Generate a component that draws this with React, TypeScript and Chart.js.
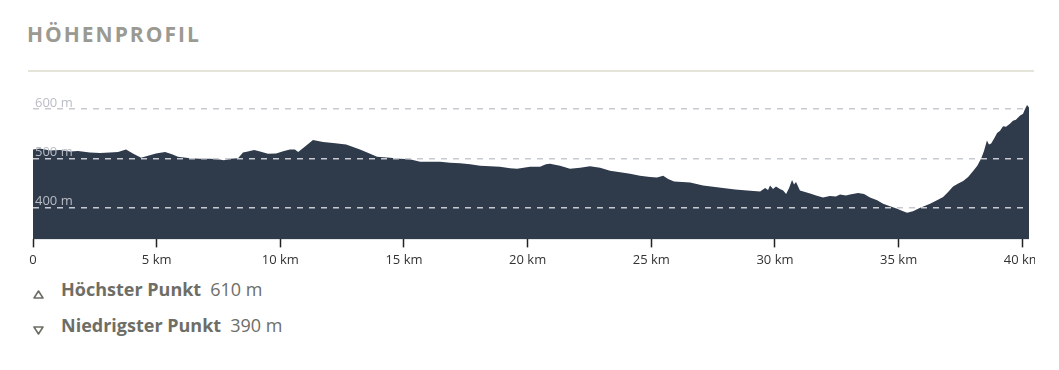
import React, { useEffect, useRef } from "react";
import { Chart, registerables } from "chart.js";

Chart.register(...registerables);

const DISTANCE_KM = [
  0.0, 0.28, 0.69, 1.09, 1.5, 1.82, 2.3, 2.71, 3.11, 3.44, 3.76, 4.04, 4.37, 4.65, 4.97,
  5.34, 5.62, 5.86, 6.35, 6.75, 7.16, 7.48, 7.72, 7.97, 8.29, 8.49, 8.69, 8.94, 9.18, 9.5,
  9.83, 10.15, 10.39, 10.59, 10.72, 11.0, 11.32, 11.52, 11.73, 12.13, 12.66, 13.22, 13.63,
  13.91, 14.44, 14.84, 15.24, 15.65, 16.05, 16.46, 16.86, 17.27, 17.67, 18.08, 18.48, 18.88,
  19.29, 19.57, 20.1, 20.5, 20.74, 20.9, 21.31, 21.71, 22.12, 22.52, 22.93, 23.33, 23.74,
  24.14, 24.54, 24.95, 25.23, 25.48, 25.68, 25.92, 26.57, 27.09, 27.58, 27.9, 28.39, 28.87,
  29.4, 29.6, 29.72, 29.8, 29.92, 30.04, 30.2, 30.33, 30.45, 30.57, 30.69, 30.77, 30.85,
  31.01, 31.42, 31.66, 31.94, 32.22, 32.46, 32.63, 32.87, 33.03, 33.36, 33.6, 33.84, 34.13,
  34.37, 34.65, 34.94, 35.18, 35.34, 35.58, 35.87, 36.27, 36.55, 36.8, 37.0, 37.2, 37.41,
  37.61, 37.81, 38.02, 38.18, 38.34, 38.45, 38.57, 38.65, 38.74, 38.86, 38.98, 39.1, 39.22,
  39.34, 39.5, 39.62, 39.74, 39.9, 40.03, 40.11, 40.19, 40.27,
];

const ELEVATION_M = [
  518, 520, 516, 517, 514, 515, 512, 511, 512, 513, 518, 510, 501, 505, 510,
  513, 508, 503, 500, 499, 499, 498, 496, 499, 500, 512, 514, 517, 514, 509,
  510, 515, 518, 518, 513, 524, 537, 535, 533, 531, 528, 518, 509,
  503, 501, 499, 498, 493, 493, 493, 491, 490, 488, 485, 484, 483,
  480, 479, 483, 483, 488, 489, 485, 479, 481, 484, 481, 475, 472,
  469, 465, 462, 461, 465, 458, 453, 451, 445, 442, 440, 437, 435,
  433, 440, 436, 445, 438, 443, 438, 435, 428, 440, 456, 447, 452,
  435, 429, 425, 421, 424, 423, 427, 425, 427, 430, 428, 421, 415,
  408, 403, 398, 393, 390, 393, 400, 408, 415, 422, 432, 443, 449,
  454, 462, 475, 485, 500, 515, 536, 528, 530, 540, 551, 556, 565,
  564, 570, 576, 578, 586, 590, 600, 608, 603,
];

const X_TICKS = [0, 5, 10, 15, 20, 25, 30, 35, 40];
const Y_TICKS = [400, 500, 600];
const X_MAX = 40.27;
const Y_MIN = 336;
const Y_MAX = 620;

const TITLE = "HÖHENPROFIL";
const HIGHEST_LABEL = "Höchster Punkt";
const HIGHEST_VALUE = "610 m";
const LOWEST_LABEL = "Niedrigster Punkt";
const LOWEST_VALUE = "390 m";

const FONT = '"Open Sans", "DejaVu Sans", sans-serif';

function ProfileChart() {
  const ref = useRef<HTMLCanvasElement | null>(null);
  useEffect(() => {
    if (!ref.current) return;
    const points = DISTANCE_KM.map((x, i) => ({ x, y: ELEVATION_M[i] }));
    const chart = new Chart(ref.current, {
      type: "line",
      data: {
        datasets: [
          {
            data: points,
            fill: "start",
            backgroundColor: "#2f3a4b",
            borderColor: "rgba(0,0,0,0)",
            borderWidth: 0,
            pointRadius: 0,
            tension: 0,
          },
        ],
      },
      options: {
        animation: false,
        responsive: false,
        devicePixelRatio: 1,
        layout: { padding: { left: 5, right: 18, top: 14, bottom: 0 } },
        plugins: { legend: { display: false }, tooltip: { enabled: false } },
        scales: {
          x: {
            type: "linear",
            min: 0,
            max: X_MAX,
            afterBuildTicks: (scale: any) => {
              scale.ticks = X_TICKS.map((v) => ({ value: v }));
            },
            afterFit: (scale: any) => {
              scale.paddingLeft = 0;
              scale.paddingRight = 0;
            },
            grid: {
              display: true,
              drawOnChartArea: false,
              drawTicks: true,
              tickLength: 8,
              tickColor: "#222",
              tickWidth: 1.5,
            },
            border: { display: false },
            ticks: {
              padding: 5,
              color: "#333",
              font: { family: FONT, size: 13 },
              maxRotation: 0,
              autoSkip: false,
              callback: (v: any) => (Number(v) === 0 ? "0" : `${v} km`),
            },
          },
          y: {
            type: "linear",
            min: Y_MIN,
            max: Y_MAX,
            afterBuildTicks: (scale: any) => {
              scale.ticks = Y_TICKS.map((v) => ({ value: v }));
            },
            afterFit: (scale: any) => {
              scale.width = 0;
            },
            grid: {
              display: true,
              drawTicks: false,
              color: "#c8cad1",
              lineWidth: 1.5,
              z: 1,
            },
            border: { display: false, dash: [6, 6], z: 1 },
            ticks: {
              mirror: true,
              padding: 2,
              labelOffset: -6,
              color: "#b9bcc4",
              font: { family: FONT, size: 13 },
              autoSkip: false,
              z: 1,
              callback: (v: any) => `${v} m`,
            },
          },
        },
      },
    });
    return () => chart.destroy();
  }, []);
  return <canvas ref={ref} width={1019} height={188} style={{ display: "block" }} />;
}

function Triangle({ up }: { up: boolean }) {
  return (
    <svg width={11} height={9} viewBox="0 0 11 9" style={{ position: "absolute", left: 0, top: 10 }}>
      {up ? (
        <polygon points="5.5,1 10,8 1,8" fill="none" stroke="#6e6e66" strokeWidth={1.6} strokeLinejoin="round" />
      ) : (
        <polygon points="1,1 10,1 5.5,8" fill="none" stroke="#6e6e66" strokeWidth={1.6} strokeLinejoin="round" />
      )}
    </svg>
  );
}

function LegendRow({ up, label, value, top }: { up: boolean; label: string; value: string; top: number }) {
  return (
    <div
      style={{
        position: "absolute",
        left: 25,
        top,
        height: 18,
        lineHeight: "18px",
        fontSize: 18,
        fontFamily: FONT,
        color: "#6e6e66",
        whiteSpace: "nowrap",
      }}
    >
      <Triangle up={up} />
      <span style={{ position: "absolute", left: 28, top: 0 }}>
        <span style={{ fontWeight: 700 }}>{label}</span>
        <span style={{ fontWeight: 400, marginLeft: 9 }}>{value}</span>
      </span>
    </div>
  );
}

export default function App() {
  return (
    <div style={{ position: "relative", width: 1043, height: 354, fontFamily: FONT }}>
      <div
        style={{
          position: "absolute",
          left: 19,
          top: 16,
          fontSize: 21,
          lineHeight: "21px",
          fontWeight: 700,
          letterSpacing: 2,
          color: "#9a9a92",
          whiteSpace: "nowrap",
        }}
      >
        {TITLE}
      </div>
      <div
        style={{
          position: "absolute",
          left: 20,
          top: 62,
          width: 1006,
          height: 2,
          background: "#e4e4d8",
        }}
      />
      <div
        style={{
          position: "absolute",
          left: 20,
          top: 77,
          width: 1007,
          height: 188,
          overflow: "hidden",
        }}
      >
        <ProfileChart />
      </div>
      <LegendRow up={true} label={HIGHEST_LABEL} value={HIGHEST_VALUE} top={272} />
      <LegendRow up={false} label={LOWEST_LABEL} value={LOWEST_VALUE} top={308} />
    </div>
  );
}
